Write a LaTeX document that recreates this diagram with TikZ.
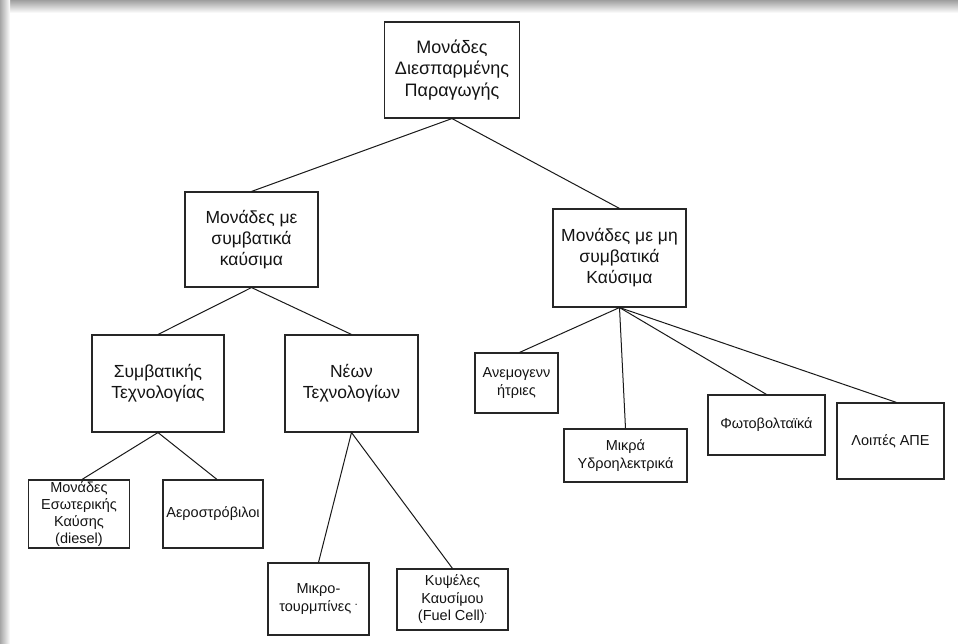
\documentclass[tikz,border=0pt]{standalone}
\usepackage{fontspec}
\setmainfont{Liberation Sans}
\begin{document}
\begin{tikzpicture}[x=1pt,y=-1pt,
  box/.style={draw=black!85, line width=1.1pt, fill=white, align=center, inner sep=0pt, text=black!92},
  big/.style={box, font=\fontsize{17.5}{21}\selectfont},
  small/.style={box, font=\fontsize{14.5}{17.5}\selectfont},
  link/.style={draw=black!90, line width=1pt}]
\useasboundingbox (0,0) rectangle (958,643);
\fill[white] (0,0) rectangle (958,643);
\shade[top color=black!38, bottom color=white] (0,0) rectangle (958,13);
\shade[left color=black!35, right color=white] (0,0) rectangle (10,643);
\fill[white] (10,13) rectangle (958,643);
% nodes
\node[big, font=\fontsize{18}{21.5}\selectfont, minimum width=135pt, minimum height=96pt] (top) at (452,70) {Μονάδες\\Διεσπαρμένης\\Παραγωγής};
\node[big, minimum width=133pt, minimum height=95pt] (conv) at (251.5,239.5) {Μονάδες με\\συμβατικά\\καύσιμα};
\node[big, minimum width=133pt, minimum height=98pt] (nonconv) at (619.5,258) {Μονάδες με μη\\συμβατικά\\Καύσιμα};
\node[big, minimum width=132pt, minimum height=97pt] (ctech) at (158,383.5) {Συμβατικής\\Τεχνολογίας};
\node[big, minimum width=133pt, minimum height=97pt] (ntech) at (351.5,383.5) {Νέων\\Τεχνολογίων};
\node[small, font=\fontsize{14.5}{16.7}\selectfont, minimum width=101pt, minimum height=68pt] (diesel) at (79,514) {Μονάδες\\Εσωτερικής\\Καύσης\\(diesel)};
\node[small, minimum width=100pt, minimum height=68pt] (aero) at (213,514) {Αεροστρόβιλοι};
\node[small, minimum width=101pt, minimum height=72pt] (micro) at (318.5,599) {Μικρο-\\τουρμπίνες \textsuperscript{\tiny•}};
\node[small, minimum width=111pt, minimum height=61pt] (fuel) at (452.5,599.5) {Κυψέλες\\Καυσίμου\\(Fuel Cell)\textsuperscript{\tiny•}};
\node[small, minimum width=83pt, minimum height=60pt] (wind) at (516.5,383) {Ανεμογενν\\ήτριες};
\node[small, minimum width=123pt, minimum height=53pt] (hydro) at (625.5,455.5) {Μικρά\\Υδροηλεκτρικά};
\node[small, minimum width=117pt, minimum height=60pt] (pv) at (766.5,425) {Φωτοβολταϊκά};
\node[small, minimum width=107pt, minimum height=76pt] (other) at (890.5,441) {Λοιπές ΑΠΕ};
% links
\draw[link] (top.south) -- (conv.north);
\draw[link] (top.south) -- (nonconv.north);
\draw[link] (conv.south) -- (ctech.north);
\draw[link] (conv.south) -- (ntech.north);
\draw[link] (ctech.south) -- ([xshift=3pt]diesel.north);
\draw[link] (ctech.south) -- ([xshift=4pt]aero.north);
\draw[link] (ntech.south) -- (micro.north);
\draw[link] (ntech.south) -- (fuel.north);
\draw[link] (nonconv.south) -- ([xshift=3pt]wind.north);
\draw[link] (nonconv.south) -- (hydro.north);
\draw[link] (nonconv.south) -- (pv.north);
\draw[link] (nonconv.south) -- ([xshift=6pt]other.north);
\end{tikzpicture}
\end{document}
